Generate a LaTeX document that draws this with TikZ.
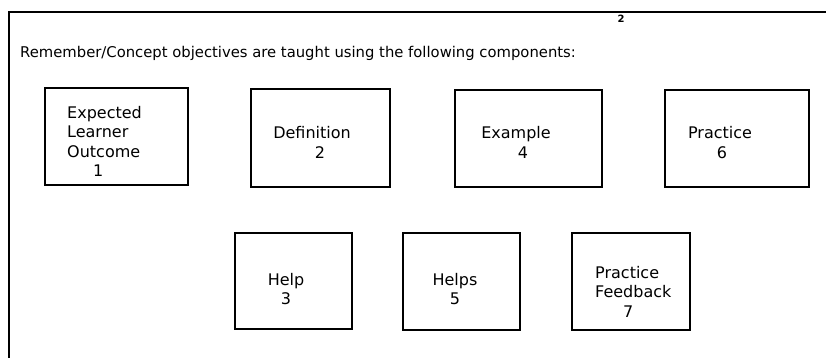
\documentclass[tikz,border=0pt]{standalone}
\usepackage{fontspec}
\setmainfont{DejaVu Sans}
\usetikzlibrary{positioning}

\begin{document}
\begin{tikzpicture}[
  x=1pt, y=-1pt,
  frame/.style={line width=1.8pt},
  box/.style={draw, rectangle, line width=1.7pt, inner sep=0pt},
  lbl/.style={font=\fontsize{16}{19.5}\selectfont, inner sep=0pt},
  head/.style={font=\fontsize{14.8}{18}\selectfont, inner sep=0pt, anchor=west}
]
  \useasboundingbox (0,0) rectangle (826,358);

  % page frame
  \coordinate (fbl) at (9,358);
  \coordinate (ftl) at (9,12);
  \coordinate (ftr) at (826,12);
  \draw[frame] (fbl) -- (ftl) -- (ftr);
  \node[font=\fontsize{10}{10}\selectfont\bfseries, inner sep=0pt] (pgno) at (621,19) {2};

  \node[head] (title) at (20,53) {Remember/Concept objectives are taught using the following components:};

  % top row
  \node[box, minimum width=143pt, minimum height=97pt] (elo) at (116.5,136.5) {};
  \node[box, minimum width=139pt, minimum height=98pt] (def) at (320.5,138) {};
  \node[box, minimum width=147pt, minimum height=97pt] (exa) at (528.5,138.5) {};
  \node[box, minimum width=144pt, minimum height=97pt] (prac) at (737,138.5) {};
  \node[lbl, align=left, anchor=west] (elo-t) at (67,141.5) {Expected\\Learner\\Outcome\\\hspace*{26pt}1};
  \node[lbl, align=center] (def-t) at (312,142.5) {Definition\\\hspace*{16pt}2};
  \node[lbl, align=center] (exa-t) at (516,142.5) {Example\\\hspace*{14pt}4};
  \node[lbl, align=center] (prac-t) at (720,142.5) {Practice\\\hspace*{4pt}6};

  % bottom row
  \node[box, minimum width=117pt, minimum height=96pt] (help) at (293.5,281) {};
  \node[box, minimum width=117pt, minimum height=97pt] (helps) at (461.5,281.5) {};
  \node[box, minimum width=118pt, minimum height=97pt] (pfb) at (631,281.5) {};
  \node[lbl, align=center] (help-t) at (286,289) {Help\\3};
  \node[lbl, align=center] (helps-t) at (455,289) {Helps\\5};
  \node[lbl, align=left, anchor=west] (pfb-t) at (595,291.5) {Practice\\Feedback\\\hspace*{28pt}7};
\end{tikzpicture}
\end{document}
